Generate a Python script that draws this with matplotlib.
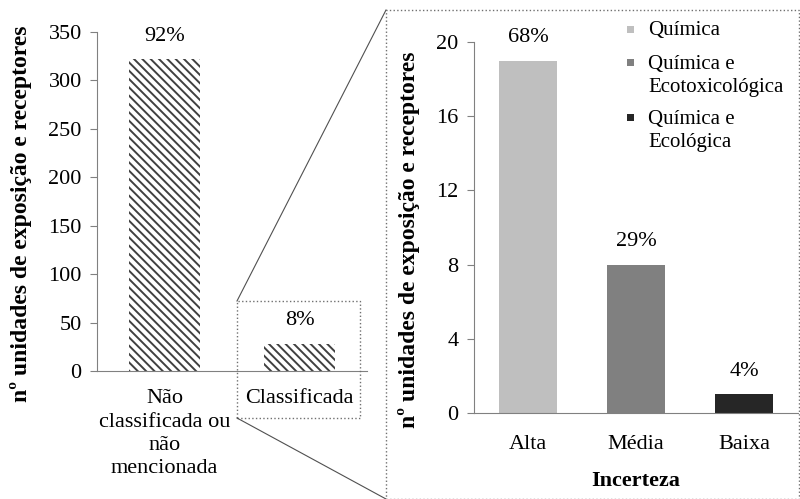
import matplotlib.pyplot as plt
from matplotlib.lines import Line2D
from matplotlib.patches import Rectangle

plt.rcParams['font.family'] = ['Liberation Serif', 'DejaVu Serif']
plt.rcParams['hatch.linewidth'] = 1.4

# overall classification
class_labels = ['Não\nclassificada ou\nnão\nmencionada', 'Classificada']
class_counts = [322, 28]
class_pct = ['92%', '8%']

# uncertainty of the classified units
unc_labels = ['Alta', 'Média', 'Baixa']
unc_counts = [19, 8, 1]
unc_pct = ['68%', '29%', '4%']
unc_types = ['Química', 'Química e\nEcotoxicológica', 'Química e\nEcológica']
unc_colors = ['#bfbfbf', '#808080', '#262626']

ylabel = 'nº unidades de exposição e receptores'
W, H = 800, 499


def px(x, y):
    # pixel position -> figure fraction
    return x / W, 1 - y / H


fig = plt.figure(figsize=(8, 4.99), dpi=100)
ax1 = fig.add_axes([97 / W, 1 - 371 / H, 270 / W, 339 / H])
ax2 = fig.add_axes([474 / W, 1 - 413 / H, 324 / W, 371 / H])

for ax in (ax1, ax2):
    for s in ('top', 'right'):
        ax.spines[s].set_visible(False)
    for s in ('left', 'bottom'):
        ax.spines[s].set_color('#808080')
    ax.tick_params(axis='y', direction='out', length=5, color='#808080',
                   labelsize=16, pad=6)
    ax.tick_params(axis='x', length=0, labelsize=16)

# left panel
x1 = range(len(class_labels))
bars = ax1.bar(x1, class_counts, width=0.53, color='white', edgecolor='#404040',
               linewidth=0, hatch='\\\\\\\\')
ax1.set_xlim(-0.5, 1.5)
ax1.set_ylim(0, 350)
ax1.set_yticks(range(0, 351, 50))
ax1.set_xticks(list(x1))
ax1.set_xticklabels(class_labels, linespacing=1.32)
ax1.tick_params(axis='x', pad=13)
ax1.set_ylabel(ylabel, fontsize=17, fontweight='bold')
ax1.yaxis.set_label_coords(-0.241, 0.463)
for b, t in zip(bars, class_pct):
    ax1.annotate(t, (b.get_x() + b.get_width() / 2, b.get_height()),
                 xytext=(0, 16.5), textcoords='offset points',
                 ha='center', va='center', fontsize=16)

# right panel
x2 = range(len(unc_labels))
bars2 = ax2.bar(x2, unc_counts, width=0.54, color=unc_colors)
ax2.set_xlim(-0.5, 2.5)
ax2.set_ylim(0, 20)
ax2.set_yticks(range(0, 21, 4))
ax2.set_xticks(list(x2))
ax2.set_xticklabels(unc_labels)
ax2.tick_params(axis='x', pad=16)
ax2.set_xlabel('Incerteza', fontsize=16, fontweight='bold', labelpad=12)
ax2.set_ylabel(ylabel, fontsize=17, fontweight='bold')
ax2.yaxis.set_label_coords(-0.167, 0.466)
for b, t in zip(bars2, unc_pct):
    ax2.annotate(t, (b.get_x() + b.get_width() / 2, b.get_height()),
                 xytext=(0, 16.5), textcoords='offset points',
                 ha='center', va='center', fontsize=16)

# legend: small squares next to the first line of each label
key_rows = [35, 68, 123]
line_gap = 24
for c, lab, yb in zip(unc_colors, unc_types, key_rows):
    sx, sy = px(627, yb - 2)
    fig.add_artist(Rectangle((sx, sy), 7 / W, 7 / H, facecolor=c, edgecolor='none',
                             transform=fig.transFigure))
    # baseline alignment refers to the last line of the label
    tx, ty = px(648, yb + line_gap * lab.count('\n'))
    fig.text(tx, ty, lab, fontsize=15, va='baseline', ha='left', linespacing=1.29)

# zoom box linking the two panels
dot = dict(color='#707070', linestyle=':', linewidth=1.0)
x0, y0 = px(237, 418)
x1b, y1b = px(360, 301)
fig.add_artist(Rectangle((x0, y0), x1b - x0, y1b - y0, fill=False,
                         transform=fig.transFigure, **dot))
bx0, by0 = px(386, 499)
bx1, by1 = px(799, 10)
fig.add_artist(Rectangle((bx0, by0), bx1 - bx0, by1 - by0, fill=False,
                         transform=fig.transFigure, **dot))
fig.add_artist(Line2D([x0, bx0], [y1b, by1], color='#505050', linewidth=0.8,
                      transform=fig.transFigure))
fig.add_artist(Line2D([x0, bx0], [y0, by0], color='#505050', linewidth=0.8,
                      transform=fig.transFigure))

fig.savefig('out.png', dpi=100)
